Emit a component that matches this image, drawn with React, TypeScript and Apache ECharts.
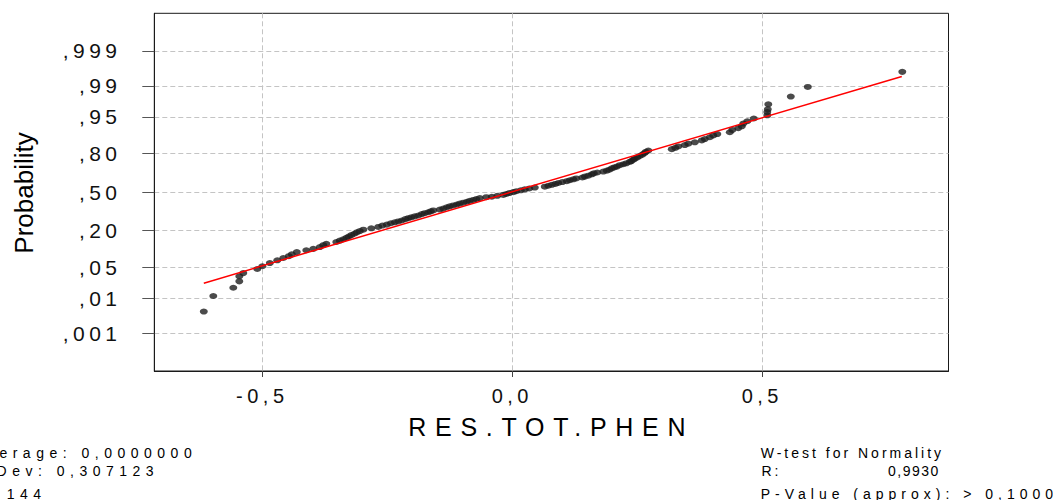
import React, { useEffect, useRef } from 'react';
import * as echarts from 'echarts';

const points: [number, number][] = [
  [-0.617, -2.61], [-0.598, -2.27], [-0.558, -2.09], [-0.546, -1.95], [-0.546, -1.84],
  [-0.538, -1.77], [-0.510, -1.68], [-0.500, -1.62], [-0.485, -1.55], [-0.470, -1.49],
  [-0.458, -1.44], [-0.447, -1.40], [-0.441, -1.36], [-0.431, -1.31], [-0.412, -1.27],
  [-0.398, -1.24], [-0.385, -1.20], [-0.378, -1.16], [-0.372, -1.13], [-0.352, -1.09],
  [-0.345, -1.06], [-0.338, -1.03], [-0.332, -1.00], [-0.327, -0.97], [-0.322, -0.94],
  [-0.316, -0.91], [-0.311, -0.88], [-0.305, -0.85], [-0.298, -0.82], [-0.282, -0.79],
  [-0.268, -0.76], [-0.260, -0.73], [-0.251, -0.71], [-0.243, -0.68], [-0.235, -0.66],
  [-0.228, -0.64], [-0.221, -0.62], [-0.214, -0.59], [-0.208, -0.57], [-0.202, -0.55],
  [-0.195, -0.53], [-0.188, -0.51], [-0.181, -0.48], [-0.175, -0.46], [-0.168, -0.44],
  [-0.163, -0.42], [-0.158, -0.40], [-0.145, -0.38], [-0.138, -0.36], [-0.131, -0.33],
  [-0.125, -0.31], [-0.118, -0.29], [-0.111, -0.27], [-0.105, -0.25], [-0.098, -0.23],
  [-0.091, -0.21], [-0.085, -0.19], [-0.078, -0.17], [-0.072, -0.15], [-0.065, -0.13],
  [-0.052, -0.11], [-0.041, -0.10], [-0.030, -0.08], [-0.018, -0.06], [-0.012, -0.04],
  [-0.006, -0.02], [0.002, 0.00], [0.008, 0.02], [0.017, 0.04], [0.025, 0.06],
  [0.034, 0.08], [0.045, 0.10], [0.065, 0.12], [0.072, 0.14], [0.079, 0.16],
  [0.086, 0.18], [0.092, 0.20], [0.100, 0.22], [0.109, 0.24], [0.115, 0.26],
  [0.122, 0.28], [0.128, 0.30], [0.140, 0.32], [0.145, 0.34], [0.152, 0.36],
  [0.159, 0.39], [0.163, 0.41], [0.170, 0.43], [0.182, 0.45], [0.189, 0.47],
  [0.194, 0.49], [0.199, 0.52], [0.204, 0.54], [0.209, 0.56], [0.215, 0.59],
  [0.222, 0.61], [0.228, 0.63], [0.235, 0.66], [0.238, 0.68], [0.242, 0.71],
  [0.245, 0.73], [0.250, 0.76], [0.255, 0.79], [0.260, 0.82], [0.264, 0.85],
  [0.267, 0.88], [0.272, 0.91], [0.319, 0.94], [0.326, 0.97], [0.332, 1.00],
  [0.345, 1.03], [0.352, 1.06], [0.365, 1.09], [0.379, 1.13], [0.385, 1.16],
  [0.395, 1.20], [0.402, 1.24], [0.410, 1.27], [0.435, 1.31], [0.440, 1.36],
  [0.452, 1.40], [0.459, 1.44], [0.462, 1.50], [0.470, 1.55], [0.483, 1.61],
  [0.510, 1.68], [0.510, 1.75], [0.511, 1.81], [0.512, 1.92], [0.557, 2.09],
  [0.591, 2.30], [0.780, 2.63],
];

// Fitted normal line end points (x, z)
const fitLine: [number, number][] = [[-0.617, -1.99], [0.779, 2.53]];

const xTicks = [-0.5, 0, 0.5];
const xTickLabels = ['-0,5', '0,0', '0,5'];
const probTickLabels = [',001', ',01', ',05', ',20', ',50', ',80', ',95', ',99', ',999'];
const probTickZ = [-3.09, -2.326, -1.645, -0.842, 0, 0.842, 1.645, 2.326, 3.09];

const xTitle = 'RES.TOT.PHEN';
const yTitle = 'Probability';
const statsLeft = ['Average: 0,0000000', 'StDev: 0,307123', 'N: 144'];
const wTitle = 'W-test for Normality';
const rLabel = 'R:';
const rValue = '0,9930';
const pValue = 'P-Value (approx): > 0,1000';

const FONT = '"Liberation Sans", Arial, Helvetica, sans-serif';

const spacing: Record<string, number> = {
  [xTitle]: 8.7,
  [yTitle]: 0,
  [wTitle]: 3,
  [rLabel]: 3,
  [rValue]: 1.5,
  [pValue]: 5,
};
statsLeft.forEach((s) => (spacing[s] = 5.5));
probTickLabels.forEach((s) => (spacing[s] = 4.4));
xTickLabels.forEach((s) => (spacing[s] = 4.5));

const nearestLabel = (v: number, vals: number[], labels: string[]) => {
  let best = 0;
  for (let i = 1; i < vals.length; i++) {
    if (Math.abs(vals[i] - v) < Math.abs(vals[best] - v)) best = i;
  }
  return labels[best];
};

const rowY = [452.5, 471, 493.7];

export default function App() {
  const ref = useRef<HTMLDivElement>(null);

  useEffect(() => {
    const el = ref.current!;
    const chart = echarts.init(el, null, { renderer: 'svg' });

    const applySpacing = () => {
      el.querySelectorAll('text').forEach((t) => {
        const s = spacing[(t.textContent || '').trim()];
        if (s !== undefined) t.setAttribute('letter-spacing', String(s));
      });
    };
    chart.on('rendered', applySpacing);
    chart.on('finished', applySpacing);

    const textStyle = (text: string, x: number, y: number, size: number, align = 'left') => ({
      text,
      x,
      y,
      fontSize: size,
      fontFamily: FONT,
      fill: '#000',
      align,
      textAlign: align,
      verticalAlign: 'middle',
      textVerticalAlign: 'middle',
    });

    const graphics: any[] = [
      { type: 'text', style: textStyle(xTitle, 551.3, 427, 25, 'center') },
      { type: 'text', x: 24, y: 193, rotation: Math.PI / 2, style: textStyle(yTitle, 0, 0, 26, 'center') },
      ...statsLeft.map((s, i) => ({ type: 'text', style: textStyle(s, -27.7, rowY[i], 14) })),
      { type: 'text', style: textStyle(wTitle, 760.7, rowY[0], 14) },
      { type: 'text', style: textStyle(rLabel, 761.5, rowY[1], 14) },
      { type: 'text', style: textStyle(rValue, 888, rowY[1], 14) },
      { type: 'text', style: textStyle(pValue, 760.7, rowY[2], 14) },
    ];

    const gridLine = { show: true, lineStyle: { color: '#c4c4c4', width: 1, type: [5, 3] as any } };

    chart.setOption({
      animation: false,
      backgroundColor: '#fff',
      grid: {
        left: 154.3,
        top: 13.3,
        right: 104.5,
        bottom: 129,
        show: true,
        borderColor: '#1a1a1a',
        borderWidth: 1,
        backgroundColor: 'transparent',
        outerBoundsMode: 'none',
        containLabel: false,
      } as any,
      xAxis: {
        type: 'value',
        min: -0.716,
        max: 0.8724,
        axisLine: { show: true, onZero: false, lineStyle: { color: '#1a1a1a', width: 1 } },
        axisTick: { show: true, length: 6, lineStyle: { color: '#444' }, customValues: xTicks },
        axisLabel: {
          show: true,
          customValues: xTicks,
          margin: 15,
          fontSize: 20,
          fontFamily: FONT,
          color: '#111',
          formatter: (v: number) => nearestLabel(v, xTicks, xTickLabels),
        },
        splitLine: gridLine,
      } as any,
      yAxis: {
        type: 'value',
        min: -3.91,
        max: 3.91,
        axisLine: { show: true, onZero: false, lineStyle: { color: '#1a1a1a', width: 1 } },
        axisTick: { show: true, length: 12, lineStyle: { color: '#555' }, customValues: probTickZ },
        axisLabel: {
          show: true,
          customValues: probTickZ,
          margin: 33,
          fontSize: 21,
          fontFamily: FONT,
          color: '#111',
          formatter: (v: number) => nearestLabel(v, probTickZ, probTickLabels),
        },
        splitLine: gridLine,
      } as any,
      series: [
        {
          type: 'scatter',
          data: points,
          symbol: 'circle',
          symbolSize: [8, 6],
          itemStyle: { color: '#1e1e1e' },
          silent: true,
          z: 2,
        },
        {
          type: 'line',
          data: fitLine,
          symbol: 'none',
          lineStyle: { color: '#ff0000', width: 1.5 },
          silent: true,
          z: 3,
        },
      ],
      graphic: graphics,
    });
    applySpacing();

    return () => {
      chart.dispose();
    };
  }, []);

  return (
    <div
      ref={ref}
      style={{ position: 'absolute', left: 0, top: 0, width: 1053, height: 500 }}
    />
  );
}
